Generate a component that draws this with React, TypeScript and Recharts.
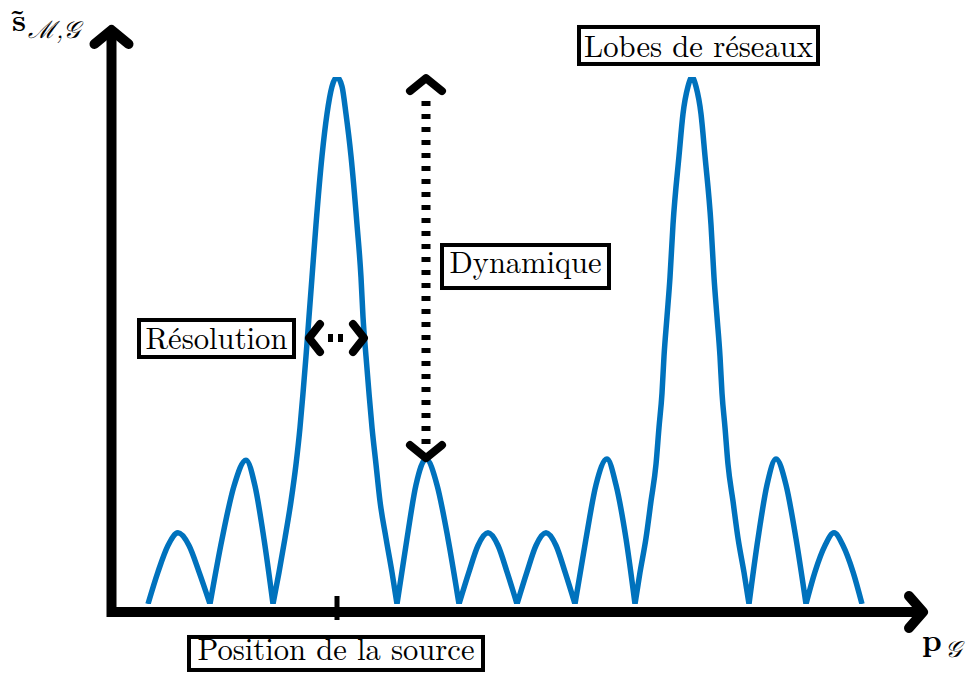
import React from "react";
import { LineChart, Line, XAxis, YAxis, ReferenceLine, ReferenceDot } from "recharts";

// p = position along the p axis (0 at the vertical axis), a = amplitude (main lobe = 1)
const lobe1 = [[36, 0], [46, 0.061], [56, 0.111], [66, 0.135], [77, 0.111], [87, 0.061], [98, 0]];
const lobe2 = [[98, 0], [110, 0.123], [122, 0.224], [134, 0.273], [143, 0.224], [152, 0.123], [161, 0]];
const mainLobe = [
  [161, 0], [167, 0.06], [173, 0.125], [179, 0.195], [184, 0.265], [188, 0.335], [191, 0.4],
  [194, 0.47], [197, 0.545], [200, 0.62], [204, 0.72], [210, 0.85], [215, 0.93], [220, 0.982],
  [225, 1],
  [230, 0.982], [234, 0.93], [239, 0.85], [245, 0.72], [249, 0.62], [251, 0.545], [254, 0.47],
  [257, 0.4], [260, 0.335], [264, 0.265], [268, 0.195], [274, 0.125], [280, 0.06], [285, 0],
];
const lobe4 = [[285, 0], [295, 0.124], [304, 0.226], [314, 0.275], [325, 0.226], [336, 0.124], [347, 0]];
const lobe5 = [[347, 0], [357, 0.061], [366, 0.111], [376, 0.135], [386, 0.111], [395, 0.061], [405, 0]];
const lobe6 = [[405, 0], [415, 0.061], [424, 0.111], [434, 0.135], [444, 0.111], [453, 0.061], [463, 0]];
const lobe7 = [[463, 0], [474, 0.124], [484, 0.226], [495, 0.275], [504, 0.226], [514, 0.124], [523, 0]];
const gratingLobe = [
  [523, 0], [528, 0.06], [534, 0.125], [539, 0.195], [544, 0.265], [547, 0.335], [550, 0.4],
  [552, 0.47], [555, 0.545], [558, 0.62], [561, 0.72], [567, 0.85], [571, 0.93], [576, 0.982],
  [580, 1],
  [584, 0.982], [589, 0.93], [593, 0.85], [599, 0.72], [602, 0.62], [605, 0.545], [608, 0.47],
  [610, 0.4], [613, 0.335], [616, 0.265], [621, 0.195], [626, 0.125], [632, 0.06], [637, 0],
];
const lobe9 = [[637, 0], [646, 0.124], [655, 0.226], [664, 0.275], [674, 0.226], [684, 0.124], [694, 0]];
const lobe10 = [[694, 0], [703, 0.061], [713, 0.111], [722, 0.135], [731, 0.111], [741, 0.061], [750, 0]];

const lobes = [lobe1, lobe2, mainLobe, lobe4, lobe5, lobe6, lobe7, gratingLobe, lobe9, lobe10];

// each lobe is its own segment (null gap) so the zeros stay sharp
const data = lobes.flatMap((l) => [
  ...l.map(([p, a]) => ({ p, a })),
  { p: l[l.length - 1][0], a: null },
]);

const FONT = "'Latin Modern Roman', 'CMU Serif', 'Liberation Serif', serif";

function Arrow(props: any) {
  const { x1, y1, x2, y2, width, head, spread, dash, inset1 = 0, inset2 = 0, both, headWidth } = props;
  const dx = x2 - x1;
  const dy = y2 - y1;
  const len = Math.hypot(dx, dy);
  const ux = dx / len;
  const uy = dy / len;
  const nx = -uy;
  const ny = ux;
  const chevron = (tx: number, ty: number, sx: number, sy: number) =>
    `M${tx - sx * head + nx * spread},${ty - sy * head + ny * spread} L${tx},${ty} L${tx - sx * head - nx * spread},${ty - sy * head - ny * spread}`;
  return (
    <g>
      <line
        x1={x1 + ux * inset1}
        y1={y1 + uy * inset1}
        x2={x2 - ux * inset2}
        y2={y2 - uy * inset2}
        stroke="#000"
        strokeWidth={width}
        strokeDasharray={dash}
      />
      <path d={chevron(x2, y2, ux, uy)} fill="none" stroke="#000" strokeWidth={headWidth}
        strokeLinecap="round" strokeLinejoin="round" />
      {both && (
        <path d={chevron(x1, y1, -ux, -uy)} fill="none" stroke="#000" strokeWidth={headWidth}
          strokeLinecap="round" strokeLinejoin="round" />
      )}
    </g>
  );
}

function TextBox(props: any) {
  const { cx, cy, w, h, base, len, text } = props;
  return (
    <g>
      <rect x={cx - w / 2} y={cy - h / 2} width={w} height={h} fill="#fff" stroke="#000" strokeWidth={4} />
      <text x={cx} y={cy + base} textAnchor="middle" fontFamily={FONT} fontSize={31}
        textLength={len} lengthAdjust="spacingAndGlyphs" fill="#000">
        {text}
      </text>
    </g>
  );
}

function YLabel(props: any) {
  const { cx, cy } = props;
  return (
    <text x={cx} y={cy} fontFamily={FONT} fill="#000" fontSize={31}>
      <tspan fontWeight="bold">{"s\u0303"}</tspan>
      <tspan dx={2} dy={7} fontSize={24} fontStyle="italic">ℳ,𝒢</tspan>
    </text>
  );
}

function XLabel(props: any) {
  const { cx, cy } = props;
  return (
    <text x={cx} y={cy} fontFamily={FONT} fill="#000" fontSize={31}>
      <tspan fontWeight="bold">p</tspan>
      <tspan dx={3} dy={6} fontSize={23} fontStyle="italic">𝒢</tspan>
    </text>
  );
}

export default function App() {
  return (
    <div style={{ position: "absolute", left: 0, top: 0, width: 966, height: 673, background: "#fff" }}>
      <LineChart width={966} height={673} data={data} margin={{ top: 77, right: 38, bottom: 69, left: 112 }}>
        <XAxis dataKey="p" type="number" domain={[0, 816]} allowDataOverflow hide />
        <YAxis type="number" domain={[0, 1]} allowDataOverflow hide />
        <Line
          dataKey="a"
          type="monotone"
          stroke="#0072BD"
          strokeWidth={5.5}
          dot={false}
          activeDot={false}
          connectNulls={false}
          isAnimationActive={false}
        />
        {/* axes */}
        <ReferenceLine
          segment={[{ x: -5, y: -0.0152 }, { x: 811, y: -0.0152 }]}
          ifOverflow="visible"
          shape={(p: any) => <Arrow {...p} width={10} headWidth={10} head={14} spread={16} />}
        />
        <ReferenceLine
          segment={[{ x: -0.5, y: -0.0247 }, { x: -0.5, y: 1.0892 }]}
          ifOverflow="visible"
          shape={(p: any) => <Arrow {...p} width={10} headWidth={10} head={14} spread={17} />}
        />
        <ReferenceLine
          segment={[{ x: 225, y: 0.0152 }, { x: 225, y: -0.0304 }]}
          ifOverflow="visible"
          stroke="#000"
          strokeWidth={5}
        />
        {/* Dynamique */}
        <ReferenceLine
          segment={[{ x: 314, y: 0.277 }, { x: 314, y: 0.998 }]}
          ifOverflow="visible"
          shape={(p: any) => (
            <Arrow {...p} both width={9} headWidth={8} head={13} spread={16} dash="5 8" inset1={14} inset2={15} />
          )}
        />
        {/* Résolution */}
        <ReferenceLine
          segment={[{ x: 197, y: 0.5047 }, { x: 252, y: 0.5047 }]}
          ifOverflow="visible"
          shape={(p: any) => (
            <Arrow {...p} both width={8} headWidth={8} head={11} spread={14} dash="5 5" inset1={19} inset2={21} />
          )}
        />
        <ReferenceDot x={586.5} y={1.0598} ifOverflow="visible"
          shape={(p: any) => <TextBox cx={p.cx} cy={p.cy} w={239} h={37} base={11.2} len={229} text="Lobes de réseaux" />} />
        <ReferenceDot x={412.5} y={0.6404} ifOverflow="visible"
          shape={(p: any) => <TextBox cx={p.cx + 1} cy={p.cy} w={167} h={43} base={6.8} len={152} text="Dynamique" />} />
        <ReferenceDot x={104.5} y={0.5038} ifOverflow="visible"
          shape={(p: any) => <TextBox cx={p.cx} cy={p.cy} w={155} h={37} base={10.8} len={142} text="Résolution" />} />
        <ReferenceDot x={224} y={-0.0939} ifOverflow="visible"
          shape={(p: any) => <TextBox cx={p.cx} cy={p.cy} w={294} h={33} base={6.5} len={277} text="Position de la source" />} />
        <ReferenceDot x={-100} y={1.0873} ifOverflow="visible" shape={(p: any) => <YLabel cx={p.cx} cy={p.cy} />} />
        <ReferenceDot x={810} y={-0.0892} ifOverflow="visible" shape={(p: any) => <XLabel cx={p.cx} cy={p.cy} />} />
      </LineChart>
    </div>
  );
}
